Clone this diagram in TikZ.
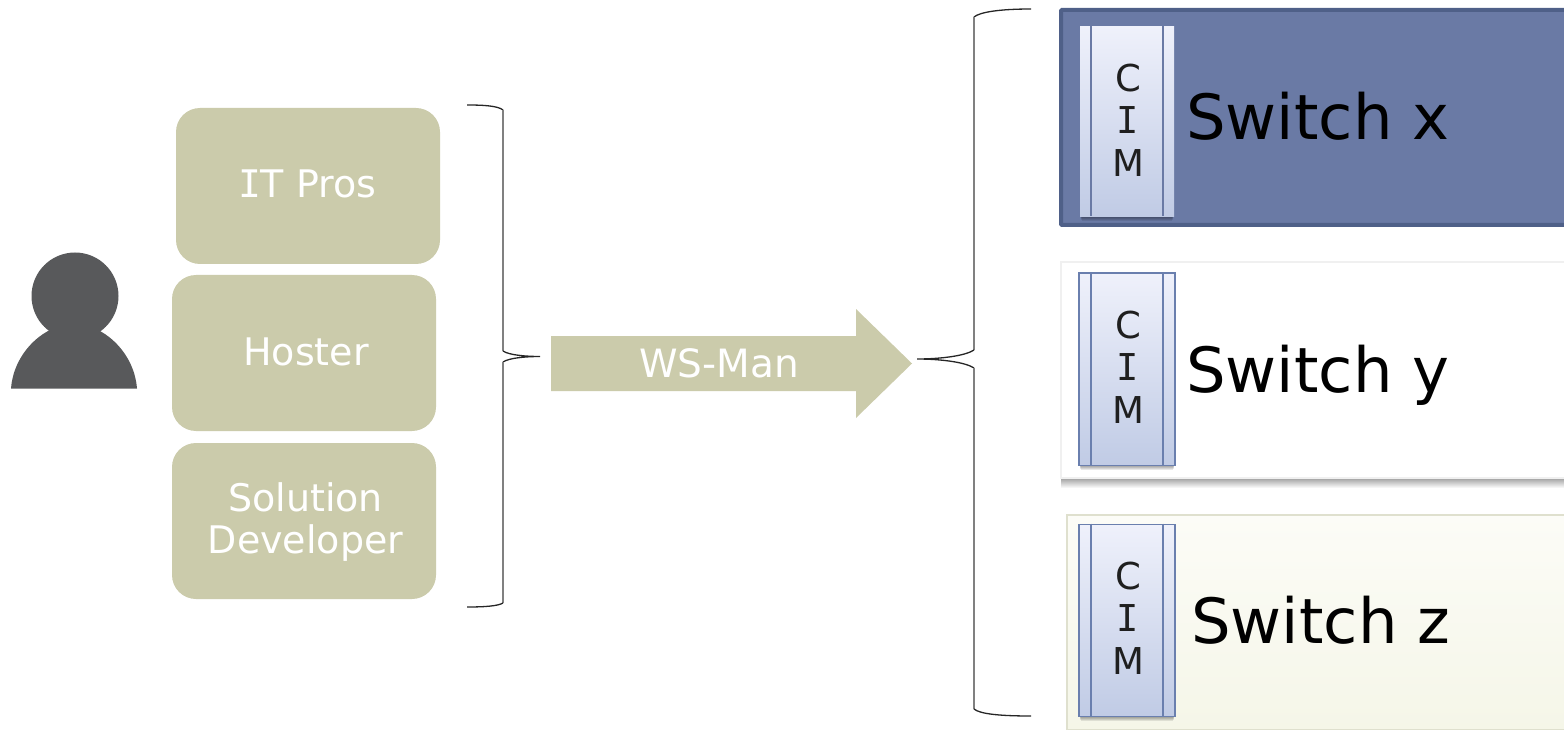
\documentclass[tikz,border=0pt]{standalone}
\usepackage{fontspec}
\setmainfont{DejaVu Sans}
\newfontfamily\slabfont{DejaVu Sans Mono}
\newcommand{\slabI}{{\slabfont I}}
\usetikzlibrary{calc}
\definecolor{khaki}{HTML}{CBCBAB}
\definecolor{slate}{HTML}{6A7AA5}
\definecolor{slatedark}{HTML}{4F6088}
\definecolor{cimline}{HTML}{6A7FAE}
\definecolor{person}{HTML}{58595B}
\definecolor{cimtop}{HTML}{EFF1FB}
\definecolor{cimbot}{HTML}{C0CBE5}
\definecolor{creamtop}{HTML}{FCFCF7}
\definecolor{creambot}{HTML}{F5F6E8}
\definecolor{creamline}{HTML}{DFE0CE}
\definecolor{shadegray}{HTML}{A0A0A0}
\tikzset{
  x=1pt,y=-1pt,
  rolebox/.style={fill=khaki,rounded corners=24pt,minimum width=264pt,minimum height=156pt,inner sep=0pt},
  roletext/.style={text=white,align=center,inner sep=0pt,font=\fontsize{38}{42}\selectfont},
  cimbox/.style={anchor=north west,top color=cimtop,bottom color=cimbot,inner sep=0pt},
  cimtext/.style={inner sep=0pt,align=center,text=black!88,font=\fontsize{37}{42.3}\selectfont},
  sw/.style={anchor=base west,inner sep=0pt,font=\fontsize{62.4}{70}\selectfont},
  bracecurve/.style={draw=black!85,line width=1.3pt},
  bracebar/.style={draw=black!50,line width=2pt},
  softshade/.style={fill=black,opacity=.09}
}
\begin{document}
\begin{tikzpicture}
\useasboundingbox (0,0) rectangle (1564,730);
% person
\fill[person] (75,296) circle[radius=43.5];
\fill[person] (11,388.5) .. controls (13,362) and (30,340) .. (50,330) -- (98,330) .. controls (118,340) and (135,362) .. (137,388.5) -- cycle;
% roles
\node[rolebox] (pros) at (308,186) {};
\node[rolebox] (hoster) at (304,353) {};
\node[rolebox] (dev) at (304,521) {};
\node[roletext] (prostext) at (309,184) {\kern-.08em\slabI\kern-.02em T Pros};
\node[roletext] (hostertext) at (306,352) {Hoster};
\node[roletext] (devtext) at (305.5,522) {Solution\\Developer};
% brace left
\draw[bracecurve] (467,105) .. controls (485,105) and (498,106) .. (503,110);
\draw[bracebar] (503,110) -- (503,351);
\draw[bracecurve] (503,351) .. controls (509,355) and (525,356.5) .. (540,356.5) .. controls (525,356.5) and (509,358) .. (503,362);
\draw[bracebar] (503,362) -- (503,603);
\draw[bracecurve] (503,603) .. controls (498,606) and (485,607) .. (467,607);
% arrow
\fill[khaki] (551,336) -- (856,336) -- (856,309) -- (912,363.5) -- (856,418) -- (856,391) -- (551,391) -- cycle;
\node[text=white,font=\fontsize{39}{44}\selectfont,inner sep=0pt] (wsman) at (719,363) {WS-Man};
% brace right
\draw[bracecurve] (1031,9) .. controls (1000,9) and (980,12) .. (974,17);
\draw[bracebar] (974,17) -- (974,350);
\draw[bracecurve] (974,350) .. controls (965,356) and (940,359) .. (917,359) .. controls (940,359) and (965,362) .. (974,368);
\draw[bracebar] (974,368) -- (974,709);
\draw[bracecurve] (974,709) .. controls (980,714) and (1000,716) .. (1031,716);
% panels
\path[fill=slate,draw=slatedark,line width=4pt,rounded corners=1pt] (1061,10) rectangle (1570,225);
\shade[top color=shadegray,bottom color=white] (1061,478) rectangle (1564,488);
\path[fill=white,draw=black!6,line width=1.5pt] (1061,262) rectangle (1570,478);
\path[top color=creamtop,bottom color=creambot,draw=creamline,line width=2pt] (1067,515) rectangle (1570,730);
% CIM soft shadows
\foreach \d in {1,2,3,4,5}{
  \path[softshade] (1080+\d/3,30) rectangle (1174-\d/3,216+\d);
  \path[softshade] (1079+\d/3,280) rectangle (1175-\d/3,465+\d);
  \path[softshade] (1079+\d/3,530) rectangle (1175-\d/3,716+\d);
}
% CIM boxes
\node[cimbox,minimum width=94pt,minimum height=190pt] (cimx) at (1080,26) {};
\node[cimbox,draw=cimline,line width=1.5pt,minimum width=96pt,minimum height=192pt] (cimy) at (1078.2,272.5) {};
\node[cimbox,draw=cimline,line width=1.5pt,minimum width=96pt,minimum height=192pt] (cimz) at (1078.2,523.5) {};
\draw[slate,line width=1.7pt] (1091,26) -- (1091,216) (1163,26) -- (1163,216);
\draw[cimline,line width=1.5pt] (1091,272.5) -- (1091,464.5) (1163,272.5) -- (1163,464.5);
\draw[cimline,line width=1.5pt] (1091,523.5) -- (1091,715.5) (1163,523.5) -- (1163,715.5);
\node[cimtext] (cimxt) at (1128,120) {C\\\slabI\\M};
\node[cimtext] (cimyt) at (1128,367) {C\\\slabI\\M};
\node[cimtext] (cimzt) at (1128,618) {C\\\slabI\\M};
% labels
\node[sw] (swx) at (1186,140) {Switch x};
\node[sw] (swy) at (1186,392) {Switch y};
\node[sw] (swz) at (1191,643) {Switch z};
\end{tikzpicture}
\end{document}
